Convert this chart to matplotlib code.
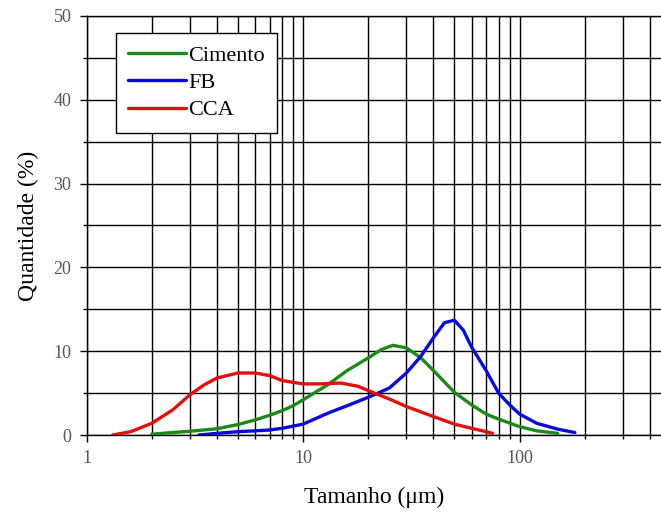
import numpy as np
import matplotlib
matplotlib.use('Agg')
import matplotlib.pyplot as plt
from matplotlib.ticker import FixedLocator, NullFormatter

plt.rcParams['font.family'] = ['Liberation Serif', 'DejaVu Serif']

# particle size (um) and quantity (%)
cimento_x = [2.0, 2.5, 3.0, 4.0, 5.0, 6.0, 7.0, 8.0, 9.0, 10.0, 13.0, 16.0, 20.0, 23.0,
             26.0, 30.0, 35.0, 40.0, 50.0, 60.0, 70.0, 80.0, 100.0, 120.0, 150.0]
cimento_y = [0.1, 0.3, 0.45, 0.75, 1.25, 1.8, 2.35, 2.9, 3.5, 4.2, 6.0, 7.7, 9.2, 10.2,
             10.7, 10.4, 9.2, 7.7, 5.1, 3.6, 2.5, 1.9, 1.0, 0.5, 0.2]

fb_x = [3.3, 4.0, 5.0, 6.0, 7.0, 8.0, 10.0, 13.0, 16.0, 20.0, 25.0, 30.0, 35.0, 40.0,
        45.0, 50.0, 55.0, 60.0, 70.0, 80.0, 90.0, 100.0, 120.0, 150.0, 180.0]
fb_y = [0.0, 0.2, 0.4, 0.5, 0.6, 0.8, 1.3, 2.6, 3.5, 4.5, 5.6, 7.4, 9.4, 11.6,
        13.4, 13.7, 12.5, 10.5, 7.7, 5.0, 3.6, 2.5, 1.4, 0.7, 0.3]

cca_x = [1.32, 1.6, 2.0, 2.5, 3.0, 3.5, 4.0, 5.0, 6.0, 7.0, 8.0, 10.0, 12.0, 15.0,
         18.0, 20.0, 25.0, 30.0, 40.0, 50.0, 60.0, 70.0, 75.0]
cca_y = [0.0, 0.4, 1.4, 3.0, 4.8, 6.0, 6.8, 7.4, 7.4, 7.1, 6.5, 6.1, 6.1, 6.2,
         5.8, 5.3, 4.3, 3.4, 2.2, 1.3, 0.8, 0.4, 0.2]

series = [('Cimento', cimento_x, cimento_y, '#1b8a1b'),
          ('FB', fb_x, fb_y, '#0a0ad8'),
          ('CCA', cca_x, cca_y, '#e01010')]

fig = plt.figure(figsize=(6.61, 5.13), dpi=100)
ax = fig.add_axes([0.131, 0.152, 0.869, 0.817])

for name, xs, ys, color in series:
    ax.plot(xs, ys, color=color, lw=2.4, label=name, solid_capstyle='round',
            solid_joinstyle='round', zorder=3)

ax.set_xscale('log')
ax.set_xlim(1, 450)
ax.set_ylim(0, 50)

ax.set_xticks([1, 10, 100])
ax.set_xticklabels(['1', '10', '100'])
minor_x = [m * d for d in (1, 10, 100) for m in range(2, 10) if m * d <= 450]
ax.xaxis.set_minor_locator(FixedLocator(minor_x))
ax.xaxis.set_minor_formatter(NullFormatter())
ax.set_yticks([0, 10, 20, 30, 40, 50])
ax.yaxis.set_minor_locator(FixedLocator([5, 15, 25, 35, 45]))

ax.grid(True, which='both', color='black', lw=1.0)
ax.set_axisbelow(True)
ax.tick_params(which='major', length=5, width=1.0, labelsize=13, labelcolor='#555555', pad=6)
ax.tick_params(which='minor', length=3, width=1.0)
for side in ('left', 'bottom', 'top'):
    ax.spines[side].set_color('black')
    ax.spines[side].set_linewidth(1.0)
ax.spines['right'].set_visible(False)

ax.set_xlabel('Tamanho (\u03bcm)', fontsize=17, labelpad=14)
ax.set_ylabel('Quantidade (%)', fontsize=17, labelpad=10)

leg = ax.legend(loc='upper left', bbox_to_anchor=(0.051, 0.959), borderaxespad=0,
                fontsize=16, frameon=True, fancybox=False, framealpha=1,
                edgecolor='black', handlelength=2.6, handletextpad=0.1,
                labelspacing=0.3, borderpad=0.55)
leg.get_frame().set_linewidth(1.0)

fig.savefig('out.png', dpi=100)
